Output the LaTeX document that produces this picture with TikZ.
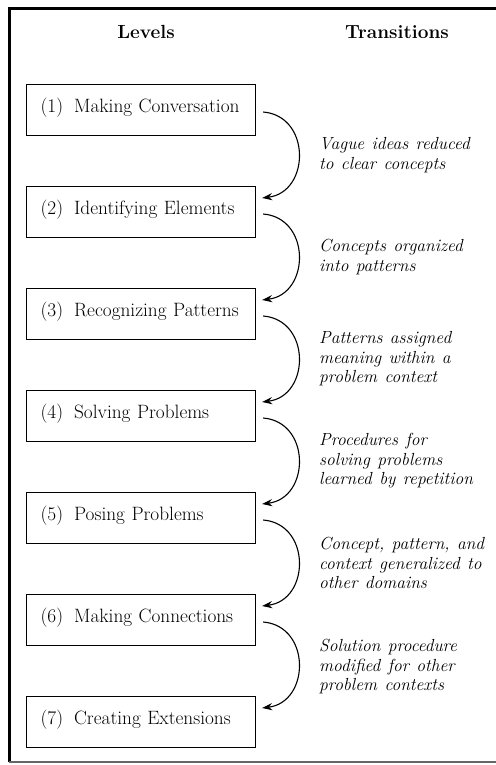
\documentclass[tikz,border=0pt]{standalone}
\usetikzlibrary{arrows.meta,calc}
\newcommand\widespacing{\spaceskip=0.42em plus 0.1em\relax}
\tikzset{
  lvl/.style={draw, line width=1.2pt, anchor=north west, inner xsep=14pt, inner ysep=0pt,
    text width=201pt, align=left, text height=28pt, text depth=23pt,
    font=\fontsize{19.3}{22}\selectfont},
  trans/.style={anchor=west, align=left, inner sep=0pt,
    font=\fontsize{17.5}{19.5}\selectfont\itshape\widespacing},
  flow/.style={line width=1.1pt, -{Stealth[length=10pt,width=7pt]}},
  hdr/.style={font=\fontsize{19}{22}\selectfont\bfseries, anchor=base},
  frameline/.style={line width=3pt},
}
\begin{document}
\begin{tikzpicture}[x=1pt,y=-1pt]
\useasboundingbox (0,0) rectangle (495,765);
% frame
\draw[frameline] (9,762) -- (9,9) -- (497,9);
\draw[line width=1.5pt, black!60] (9,762) -- (497,762);
% headers
\node[hdr] (hl) at (146,39) {Levels};
\node[hdr] (ht) at (397,39) {Transitions};
% level boxes
\foreach \t [count=\k] in {%
  (1)\hspace{11pt}Making Conversation,
  (2)\hspace{11pt}Identifying Elements,
  (3)\hspace{11pt}Recognizing Patterns,
  (4)\hspace{11pt}Solving Problems,
  (5)\hspace{11pt}Posing Problems,
  (6)\hspace{11pt}Making Connections,
  (7)\hspace{11pt}Creating Extensions}
  { \node[lvl] (b\k) at (26,{84+102*(\k-1)}) {\t}; }
% transitions
\foreach \i in {1,...,6} {
  \pgfmathtruncatemacro\j{\i+1}
  \coordinate (s\i) at ($(b\i.north east)+(7,28)$);
  \coordinate (e\i) at ($(b\j.north east)+(6,12)$);
  \draw[flow] (s\i) .. controls +(48,4) and +(48,-6) .. (e\i);
}
\node[trans] (t1) at (319,{84+71}) {Vague ideas reduced\\to clear concepts};
\node[trans] (t2) at (319,{186+71}) {Concepts organized\\into patterns};
\node[trans] (t3) at (319,{288+71}) {Patterns assigned\\meaning within a\\problem context};
\node[trans] (t4) at (319,{390+71}) {Procedures for\\solving problems\\learned by repetition};
\node[trans] (t5) at (319,{492+71}) {Concept, pattern, and\\context generalized to\\other domains};
\node[trans] (t6) at (319,{594+73}) {Solution procedure\\modified for other\\problem contexts};
\end{tikzpicture}
\end{document}
